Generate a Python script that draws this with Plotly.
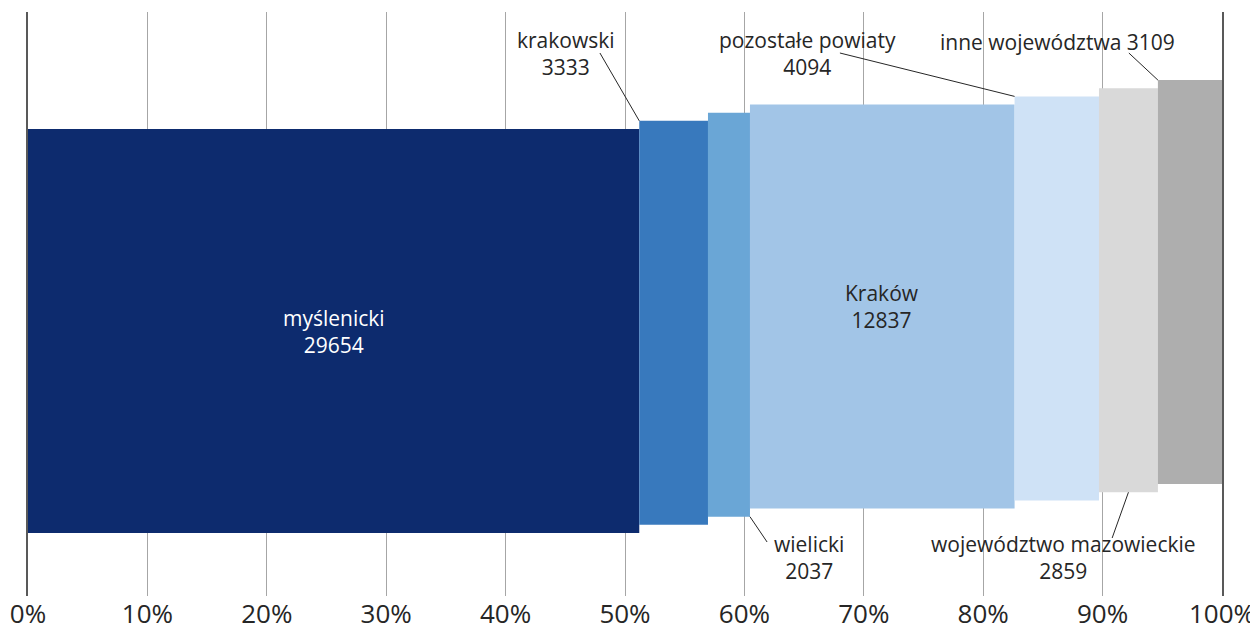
import plotly.graph_objects as go

# Data
categories = ["myślenicki", "krakowski", "wielicki", "Kraków", "pozostałe powiaty",
              "województwo mazowieckie", "inne województwa"]
values = [29654, 3333, 2037, 12837, 4094, 2859, 3109]
colors = ["#0d2b6e", "#3879bd", "#6aa6d6", "#a2c5e7", "#cfe2f6", "#d9d9d9", "#aeaeae"]
tick_vals = [0, 10, 20, 30, 40, 50, 60, 70, 80, 90, 100]
tick_text = [f"{v}%" for v in tick_vals]

total = sum(values)
pcts = [v / total * 100 for v in values]
cums = []
c = 0
for p in pcts:
    cums.append(c)
    c += p

# layout constants (vertical stagger of the segments)
THICK = 404
centers = [265 + 8.15 * i for i in range(len(values))]
tops = [cy + THICK / 2 for cy in centers]
bottoms = [cy - THICK / 2 for cy in centers]

FONT = "Open Sans"
TXT = "#262626"
LSIZE = 21

fig = go.Figure()
fig.add_trace(go.Bar(
    orientation="h",
    y=centers, x=pcts, base=cums, width=[THICK] * len(values),
    marker=dict(color=colors, line=dict(width=0)),
    hoverinfo="skip", showlegend=False,
))

annotations = []
# inside labels
annotations.append(dict(x=cums[0] + pcts[0] / 2, y=centers[0], xref="x", yref="y",
                        text=f"{categories[0]}<br>{values[0]}", showarrow=False,
                        font=dict(family=FONT, size=LSIZE, color="white")))
annotations.append(dict(x=cums[3] + pcts[3] / 2, y=centers[3], xref="x", yref="y",
                        text=f"{categories[3]}<br>{values[3]}", showarrow=False,
                        font=dict(family=FONT, size=LSIZE, color=TXT)))
# outside labels
outside = [
    (1, 45.1, 543, "{c}<br>{v}"),
    (4, 65.3, 543, "{c}<br>{v}"),
    (6, 86.2, 554, "{c} {v}"),
    (2, 65.4, 39, "{c}<br>{v}"),
    (5, 86.7, 39, "{c}<br>{v}"),
]
for i, x, y, fmt in outside:
    annotations.append(dict(x=x, y=y, xref="x", yref="y",
                            text=fmt.format(c=categories[i], v=values[i]), showarrow=False,
                            font=dict(family=FONT, size=LSIZE, color=TXT)))

# leader lines
lines = [
    (47.9, 543, cums[1], tops[1]),
    (68.0, 543, cums[4], tops[4]),
    (92.2, 543, cums[6], tops[6]),
    (cums[2] + pcts[2], bottoms[2], 61.9, 54),
    (cums[5] + pcts[5] / 2, bottoms[5], 90.8, 58),
]
shapes = []
for x0, y0, x1, y1 in lines:
    shapes.append(dict(type="line", xref="x", yref="y", x0=x0, y0=y0, x1=x1, y1=y1,
                       line=dict(color="#262626", width=1)))

# page body has an 8px margin, so the figure is 8px smaller and margins compensate
fig.update_layout(
    width=1250, height=622,
    margin=dict(l=20, r=36, t=4, b=34, autoexpand=False),
    paper_bgcolor="white", plot_bgcolor="white",
    barmode="overlay",
    annotations=annotations, shapes=shapes,
    xaxis=dict(range=[0, 100], tickvals=tick_vals, ticktext=tick_text,
               showgrid=True, gridcolor="#a6a6a6", gridwidth=1,
               zeroline=False, showline=False, ticks="", automargin=False,
               tickfont=dict(family=FONT, size=26, color=TXT)),
    yaxis=dict(range=[0, 584], showgrid=False, zeroline=False, showticklabels=False,
               automargin=False,
               showline=True, mirror=True, linecolor="#595959", linewidth=2, ticks=""),
)

fig.write_html("out.html")
